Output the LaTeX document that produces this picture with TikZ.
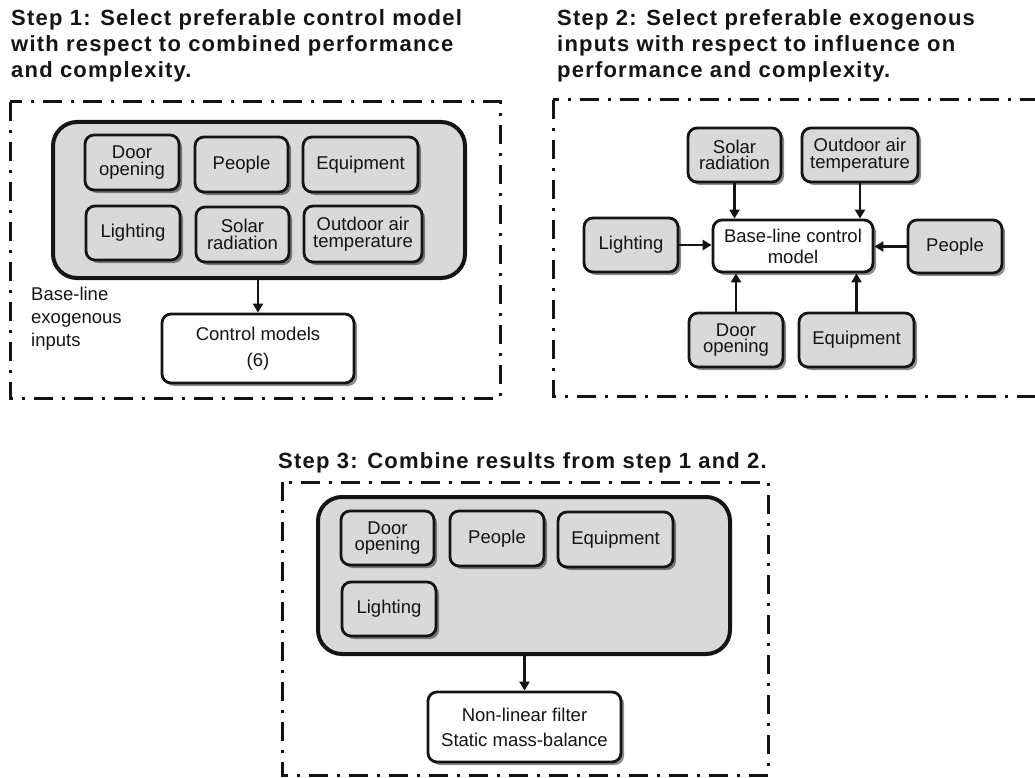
\documentclass[tikz,border=0pt]{standalone}
\usepackage{fontspec}
\setmainfont{Liberation Sans}
\usetikzlibrary{shadows,arrows.meta}
\definecolor{boxgrey}{RGB}{217,217,217}
\definecolor{ink}{RGB}{20,20,20}
\tikzset{
  frame/.style={draw=ink, line width=3pt, dash pattern=on 19pt off 9pt on 3pt off 9pt},
  big/.style={draw=ink, line width=4pt, rounded corners=24pt, fill=boxgrey, inner sep=0pt},
  gbox/.style={draw=ink, line width=2.8pt, rounded corners=9pt, fill=boxgrey, align=center, inner sep=0pt,
     text=ink, font=\fontsize{18.5}{16.5}\selectfont,
     drop shadow={shadow xshift=3pt, shadow yshift=-3pt, fill=black, opacity=0.45}},
  wbox/.style={gbox, fill=white},
  arr/.style={draw=ink, line width=2.4pt, -{Triangle[length=9pt,width=10pt]}},
  title/.style={align=left, inner sep=0pt, text=ink, font=\bfseries\fontsize{22}{26}\selectfont\addfontfeature{LetterSpace=5.5}},
  lbl/.style={align=left, inner sep=0pt, text=ink, font=\fontsize{18.5}{23}\selectfont},
}
\begin{document}
\begin{tikzpicture}[x=1pt,y=-1pt]
\useasboundingbox (0,0) rectangle (1035,778);
\clip (0,0) rectangle (1035,778);
% ---------- Step 1 ----------
\node[title, anchor=north west] (t1) at (11,9.5) {Step 1: Select preferable control model\\with respect to combined performance\\and complexity.};
\draw[frame] (10,102) rectangle (500,398);
\node[big, minimum width=412pt, minimum height=156pt] (b1) at (259,200) {};
\node[gbox, minimum width=94pt, minimum height=55pt] (a1) at (132,162.5) {Door\\opening};
\node[gbox, minimum width=93pt, minimum height=55pt] (a2) at (241.5,164.5) {People};
\node[gbox, minimum width=115pt, minimum height=55pt] (a3) at (360.5,164.5) {Equipment};
\node[gbox, minimum width=94pt, minimum height=54pt] (a4) at (133,233) {Lighting};
\node[gbox, minimum width=93pt, minimum height=55pt] (a5) at (242.5,234.5) {Solar\\radiation};
\node[gbox, minimum width=118pt, minimum height=56pt] (a6) at (363,234) {Outdoor air\\temperature};
\node[wbox, minimum width=192pt, minimum height=69pt, font=\fontsize{18.5}{26}\selectfont] (c1) at (258,348.5) {Control models\\(6)};
\draw[arr] (b1.south -| c1.north) -- (c1.north);
\node[lbl, anchor=north west] (l1) at (31,287) {Base-line\\exogenous\\inputs};
% ---------- Step 2 ----------
\node[title, anchor=north west] (t2) at (557,9.5) {Step 2: Select preferable exogenous\\inputs with respect to influence on\\performance and complexity.};
\draw[frame] (553,100) rectangle (1060,396);
\node[wbox, minimum width=160pt, minimum height=52pt, font=\fontsize{18.5}{21}\selectfont] (m2) at (793,246) {Base-line control\\model};
\node[gbox, minimum width=93pt, minimum height=54pt] (e1) at (734.5,155) {Solar\\radiation};
\node[gbox, minimum width=116pt, minimum height=54pt] (e2) at (860,155) {Outdoor air\\temperature};
\node[gbox, minimum width=94pt, minimum height=54pt] (e3) at (631,245) {Lighting};
\node[gbox, minimum width=94pt, minimum height=53pt] (e4) at (955,246.5) {People};
\node[gbox, minimum width=94pt, minimum height=54pt] (e5) at (736,340) {Door\\opening};
\node[gbox, minimum width=115pt, minimum height=54pt] (e6) at (856.5,340) {Equipment};
\draw[arr] (e1.south) -- (e1.south |- m2.north);
\draw[arr] (e2.south) -- (e2.south |- m2.north);
\draw[arr] (e3.east) -- (e3.east -| m2.west);
\draw[arr] (e4.west) -- (e4.west -| m2.east);
\draw[arr] (e5.north) -- (e5.north |- m2.south);
\draw[arr] (e6.north) -- (e6.north |- m2.south);
% ---------- Step 3 ----------
\node[title, anchor=north west] (t3) at (278,452) {Step 3: Combine results from step 1 and 2.};
\draw[frame] (282,482) rectangle (768,775);
\node[big, minimum width=412pt, minimum height=157pt] (b3) at (524,575.5) {};
\node[gbox, minimum width=93pt, minimum height=54pt] (f1) at (387.5,538) {Door\\opening};
\node[gbox, minimum width=94pt, minimum height=55pt] (f2) at (497,538.5) {People};
\node[gbox, minimum width=115pt, minimum height=55pt] (f3) at (615.5,539.5) {Equipment};
\node[gbox, minimum width=94pt, minimum height=54pt] (f4) at (389,609) {Lighting};
\node[wbox, minimum width=193pt, minimum height=70pt, font=\fontsize{18.5}{25}\selectfont] (c3) at (524.5,727) {Non-linear filter\\Static mass-balance};
\draw[arr] (b3.south -| c3.north) -- (c3.north);
\end{tikzpicture}
\end{document}
